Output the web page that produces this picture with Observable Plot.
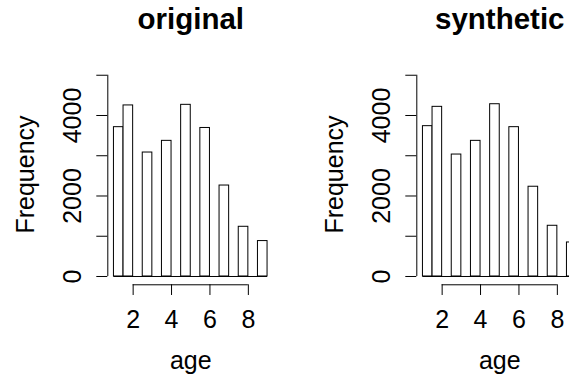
<!DOCTYPE html>
<html><head><meta charset="utf-8">
<script src="https://cdn.jsdelivr.net/npm/d3@7"></script>
<script src="https://cdn.jsdelivr.net/npm/@observablehq/plot@0.6"></script>
<style>
html,body{margin:0;padding:0;background:#fff;}
#fig{position:relative;width:569px;height:383px;overflow:hidden;background:#fff;}
.panel{position:absolute;top:0;width:309.3px;height:383px;}
.panel svg{max-width:none !important;display:block;}
</style></head><body><div id="fig"></div>
<script>
const panelTitles = ["original", "synthetic"];
const ages = [1, 2, 3, 4, 5, 6, 7, 8, 9];
const originalCounts = [3710, 4250, 3080, 3370, 4265, 3690, 2260, 1235, 880];
const syntheticCounts = [3735, 4215, 3030, 3370, 4280, 3710, 2230, 1260, 845];
const breaks = [1, 1.5, 2, 2.5, 3, 3.5, 4, 4.5, 5, 5.5, 6, 6.5, 7, 7.5, 8, 8.5, 9];
const xTicks = [2, 4, 6, 8];
const yTicks = [0, 1000, 2000, 3000, 4000, 5000];
const yLabelValues = [0, 2000, 4000];
const yTickLabels = ["0", "2000", "4000"];
const xLabel = "age";
const yLabel = "Frequency";

const FONT = "'Liberation Sans', Arial, Helvetica, sans-serif";
const W = 309.3, H = 383;
const M = {top: 74.75, left: 107.3, right: 36.1, bottom: 98.7};
const zeroOffset = 8.3;
const last = a => a[a.length - 1];
const pxPerUnit = (H - M.top - M.bottom - zeroOffset) / last(yTicks);
const yDomain = [-zeroOffset / pxPerUnit, last(yTicks)];
const pad = 0.04 * (last(breaks) - breaks[0]);
const xDomain = [breaks[0] - pad, last(breaks) + pad];

function toBins(counts) {
  return ages.map((a, i) => {
    const j = breaks.findIndex((b, k) => k > 0 && a <= b);
    return {x1: breaks[j - 1], x2: breaks[j], count: counts[i]};
  });
}

function panel(title, counts) {
  return Plot.plot({
    width: W, height: H,
    marginTop: M.top, marginLeft: M.left, marginRight: M.right, marginBottom: M.bottom,
    x: {domain: xDomain},
    y: {domain: yDomain},
    style: {fontFamily: FONT, fontSize: "25px", color: "#000", background: "transparent", overflow: "visible", maxWidth: "none"},
    marks: [
      Plot.rectY(toBins(counts), {x1: "x1", x2: "x2", y: "count", fill: "white", stroke: "black", strokeWidth: 1}),
      Plot.ruleY([0], {x1: breaks[0], x2: last(breaks), stroke: "black", strokeWidth: 1}),
      Plot.ruleX([xDomain[0]], {y1: yTicks[0], y2: last(yTicks), stroke: "black", strokeWidth: 1}),
      Plot.axisY(yTicks, {tickSize: 11, fill: "none", label: null, stroke: "black"}),
      Plot.text(yLabelValues, {y: d => d, text: (d, i) => yTickLabels[i], frameAnchor: "left", textAnchor: "middle", rotate: -90, dx: -35.3, lineAnchor: "middle", fontSize: 25}),
      Plot.ruleY([yDomain[0]], {x1: xTicks[0], x2: last(xTicks), stroke: "black", strokeWidth: 1}),
      Plot.axisX(xTicks, {tickSize: 10.7, tickPadding: 14.5, fontSize: 25, label: null, stroke: "black"}),
      Plot.text([xLabel], {frameAnchor: "bottom", textAnchor: "middle", lineAnchor: "bottom", dy: 84.7, fontSize: 25}),
      Plot.text([yLabel], {frameAnchor: "left", textAnchor: "middle", rotate: -90, lineAnchor: "bottom", dx: -74.3, dy: -5.5, fontSize: 25}),
      Plot.text([title], {frameAnchor: "top", textAnchor: "middle", lineAnchor: "bottom", dy: -46.45, fontSize: 29.5, fontWeight: "bold"})
    ]
  });
}

const fig = document.getElementById("fig");
[originalCounts, syntheticCounts].forEach((counts, i) => {
  const div = document.createElement("div");
  div.className = "panel";
  div.style.left = (i * W) + "px";
  div.appendChild(panel(panelTitles[i], counts));
  fig.appendChild(div);
});
</script>
</body></html>
